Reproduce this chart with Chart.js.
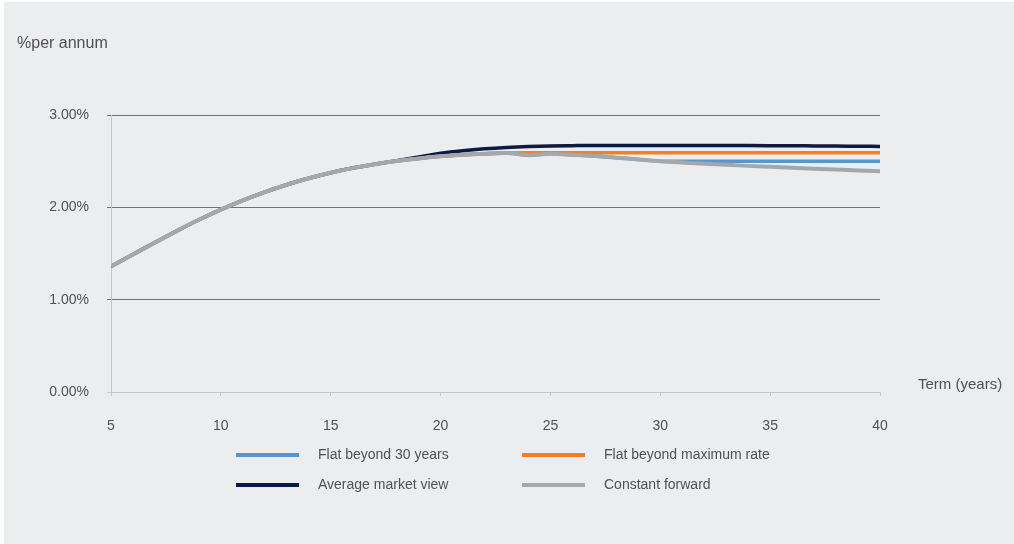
<!DOCTYPE html>
<html>
<head>
<meta charset="utf-8">
<script src="https://cdn.jsdelivr.net/npm/chart.js@4/dist/chart.umd.min.js"></script>
<style>
  html, body { margin: 0; padding: 0; background: #fff; }
  #wrap { width: 1014px; height: 544px; position: relative; }
</style>
</head>
<body>
<div id="wrap"><canvas id="canvas" width="1014" height="544"></canvas></div>
<script>
'use strict';

const terms = [5,6,7,8,9,10,11,12,13,14,15,16,17,18,19,20,21,22,23,24,25,26,27,28,29,30,31,32,33,34,35,36,37,38,39,40];

const flat30 =   [1.36,1.49,1.62,1.745,1.865,1.975,2.075,2.165,2.245,2.315,2.375,2.425,2.467,2.502,2.53,2.552,2.569,2.581,2.589,2.565,2.58,2.57,2.556,2.538,2.519,2.50,2.50,2.50,2.50,2.50,2.50,2.50,2.50,2.50,2.50,2.50];
const flatMax =  [1.36,1.49,1.62,1.745,1.865,1.975,2.075,2.165,2.245,2.315,2.375,2.425,2.467,2.502,2.53,2.552,2.569,2.581,2.589,2.59,2.59,2.59,2.59,2.59,2.59,2.59,2.59,2.59,2.59,2.59,2.59,2.59,2.59,2.59,2.59,2.59];
const avgMarket =[1.36,1.49,1.62,1.745,1.865,1.975,2.075,2.165,2.245,2.315,2.375,2.425,2.467,2.505,2.545,2.585,2.613,2.634,2.649,2.659,2.665,2.668,2.67,2.67,2.67,2.67,2.67,2.67,2.67,2.669,2.668,2.667,2.665,2.663,2.662,2.66];
const constFwd = [1.36,1.49,1.62,1.745,1.865,1.975,2.075,2.165,2.245,2.315,2.375,2.425,2.467,2.502,2.53,2.552,2.569,2.581,2.589,2.565,2.58,2.57,2.556,2.538,2.519,2.50,2.486,2.472,2.46,2.449,2.439,2.429,2.419,2.409,2.399,2.39];

const seriesNames = ['Flat beyond 30 years','Flat beyond maximum rate','Average market view','Constant forward'];
const seriesColors = ['#5596d0','#f47f25','#0b1a45','#a6a7a9'];
const yTicks = [0,1,2,3];
const xTicks = [5,10,15,20,25,30,35,40];

const FONT = '"Liberation Sans", Arial, sans-serif';
const TEXT = '#505050';

function toPoints(values){
  return terms.map((t,i)=>({x:t, y:values[i]}));
}

// background panel, axis titles and the 2x2 legend
const extras = {
  id:'extras',
  beforeDraw(chart){
    const ctx = chart.ctx;
    ctx.save();
    ctx.fillStyle = '#ecedef';
    ctx.fillRect(4,2,1010,542);
    ctx.restore();
  },
  afterDraw(chart){
    const ctx = chart.ctx;
    ctx.save();
    ctx.fillStyle = TEXT;
    ctx.textBaseline = 'middle';
    ctx.textAlign = 'left';
    ctx.font = '16px ' + FONT;
    ctx.fillText('%per annum', 17, 44);
    ctx.font = '15px ' + FONT;
    ctx.fillText('Term (years)', 918, 385);

    ctx.font = '14px ' + FONT;
    const slots = [[236,455],[522,455],[236,485],[522,485]];
    for(let i=0;i<4;i++){
      const [lx,ly] = slots[i];
      ctx.strokeStyle = seriesColors[i];
      ctx.lineWidth = 4;
      ctx.beginPath();
      ctx.moveTo(lx,ly);
      ctx.lineTo(lx+63,ly);
      ctx.stroke();
      ctx.fillStyle = TEXT;
      ctx.fillText(seriesNames[i], lx+82, ly);
    }
    ctx.restore();
  }
};

const ctx = document.getElementById('canvas').getContext('2d');
const data = [flat30, flatMax, avgMarket, constFwd];
const drawOrder = [1,2,3,0];
const widths = [3.5,3.5,3.5,4];

new Chart(ctx,{
  type:'line',
  data:{
    datasets: data.map((vals,i)=>({
      label: seriesNames[i],
      data: toPoints(vals),
      borderColor: seriesColors[i],
      backgroundColor: seriesColors[i],
      borderWidth: widths[i],
      pointRadius: 0,
      cubicInterpolationMode: 'monotone',
      order: drawOrder[i],
      borderCapStyle: 'butt'
    }))
  },
  options:{
    responsive:false,
    animation:false,
    layout:{ padding:{ left:0, right:134, top:115, bottom:0 } },
    plugins:{ legend:{display:false}, tooltip:{enabled:false} },
    scales:{
      x:{
        type:'linear',
        min:5, max:40,
        afterBuildTicks(scale){ scale.ticks = xTicks.map(v=>({value:v})); },
        afterFit(scale){ scale.height = 152; },
        grid:{ drawOnChartArea:false, drawTicks:true, tickLength:4, color:'#c4c6c9' },
        border:{ color:'#c4c6c9', width:1 },
        ticks:{ padding:22, color:TEXT, font:{family:FONT, size:14}, maxRotation:0 }
      },
      y:{
        min:0, max:3,
        afterBuildTicks(scale){ scale.ticks = yTicks.map(v=>({value:v})); },
        afterFit(scale){ scale.width = 111; },
        grid:{
          tickLength:4,
          color:(c)=> (c.tick && c.tick.value === 0) ? '#c4c6c9' : '#6e7378'
        },
        border:{ color:'#c4c6c9', width:1 },
        ticks:{
          padding:18, color:TEXT, font:{family:FONT, size:14},
          callback:(v)=> v.toFixed(2)+'%'
        }
      }
    }
  },
  plugins:[extras]
});
</script>
</body>
</html>
